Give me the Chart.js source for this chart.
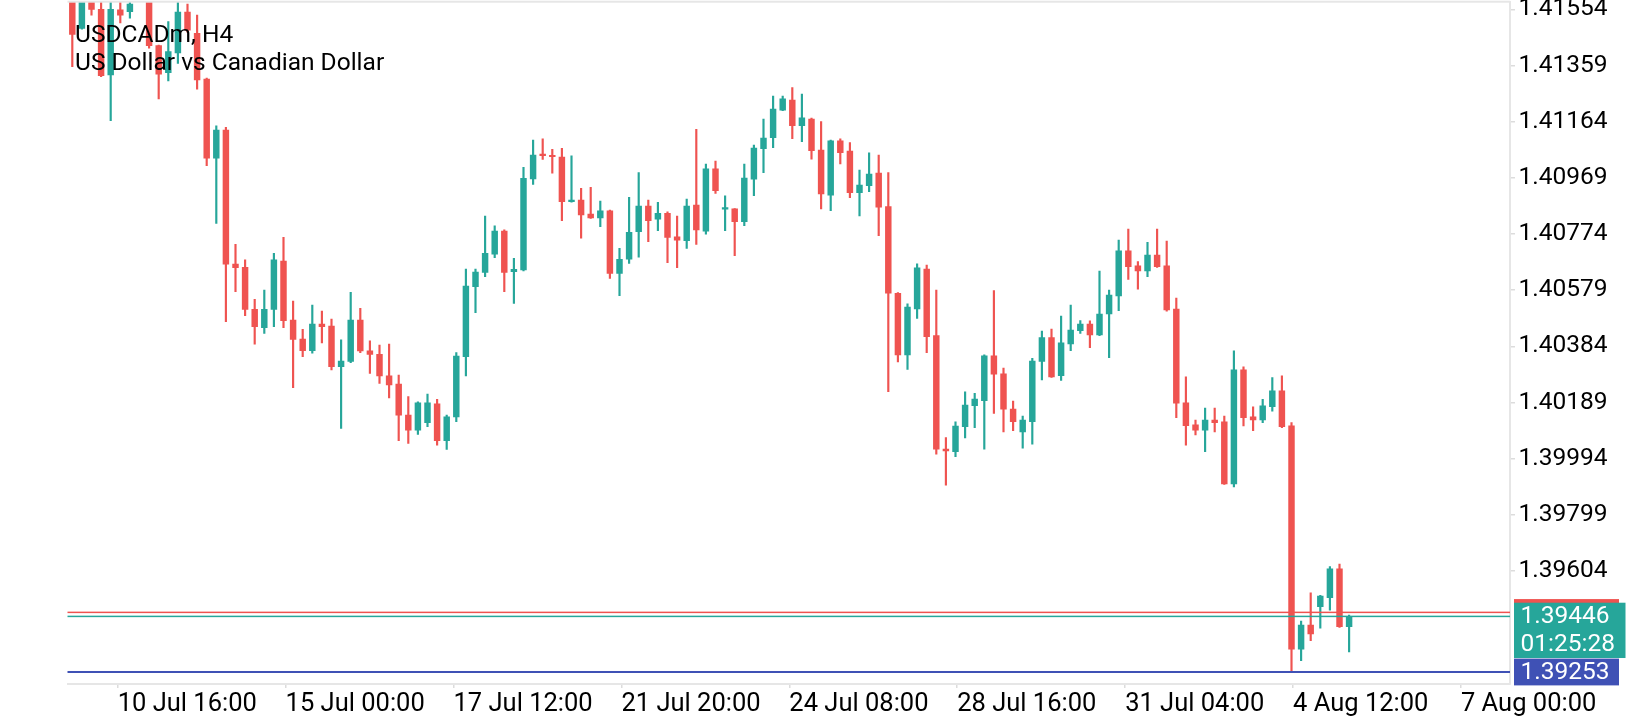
<!DOCTYPE html>
<html>
<head>
<meta charset="utf-8">
<script src="https://cdn.jsdelivr.net/npm/chart.js@4.4.1/dist/chart.umd.min.js"></script>
<style>
html, body { margin: 0; padding: 0; background: #fff; overflow: hidden; }
</style>
</head>
<body>
<canvas id="chart" width="1640" height="720"></canvas>
<script>
// USDCADm H4 candles, oldest first
var opens = [1.41690,1.41488,1.41605,1.41554,1.41326,1.41552,1.41546,1.41595,1.41600,1.41428,
  1.41334,1.41403,1.41544,1.41471,1.41312,1.41037,1.41135,1.40669,1.40658,1.40512,
  1.40449,1.40512,1.40680,1.40475,1.40409,1.40369,1.40461,1.40454,1.40313,1.40331,
  1.40475,1.40368,1.40356,1.40281,1.40253,1.40145,1.40093,1.40119,1.40184,1.40056,
  1.40139,1.40348,1.40591,1.40640,1.40704,1.40784,1.40643,1.40649,1.40965,1.41049,
  1.41047,1.41041,1.40886,1.40892,1.40843,1.40830,1.40854,1.40637,1.40686,1.40782,
  1.40871,1.40825,1.40846,1.40764,1.40751,1.40874,1.40784,1.41000,1.40860,1.40861,
  1.40817,1.40964,1.41070,1.41108,1.41204,1.41239,1.41150,1.41173,1.41065,1.40909,
  1.41097,1.41062,1.40917,1.40942,1.40985,1.40869,1.40568,1.40354,1.40514,1.40652,
  1.40421,1.40027,1.40018,1.40105,1.40178,1.40195,1.40351,1.40288,1.40166,1.40087,
  1.40122,1.40331,1.40414,1.40282,1.40392,1.40438,1.40461,1.40423,1.40496,1.40559,
  1.40715,1.40663,1.40646,1.40701,1.40663,1.40513,1.40188,1.40111,1.40093,1.40128,
  1.40122,1.39906,1.40302,1.40139,1.40128,1.40174,1.40229,1.40108,1.39332,1.39416,
  1.39480,1.39511,1.39611,1.39410];
var highs = [1.41720,1.41650,1.41620,1.41600,1.41600,1.41590,1.41600,1.41640,1.41620,1.41430,
  1.41511,1.41585,1.41572,1.41534,1.41315,1.41149,1.41144,1.40738,1.40684,1.40547,
  1.40579,1.40707,1.40762,1.40541,1.40443,1.40527,1.40506,1.40478,1.40406,1.40571,
  1.40516,1.40403,1.40388,1.40392,1.40284,1.40209,1.40191,1.40218,1.40200,1.40145,
  1.40362,1.40652,1.40652,1.40836,1.40802,1.40788,1.40689,1.41005,1.41100,1.41104,
  1.41068,1.41071,1.41045,1.40932,1.40936,1.40888,1.40857,1.40724,1.40901,1.40987,
  1.40892,1.40884,1.40851,1.40836,1.40895,1.41137,1.41017,1.41027,1.40906,1.40862,
  1.41017,1.41083,1.41173,1.41253,1.41253,1.41282,1.41260,1.41176,1.41164,1.41100,
  1.41104,1.41091,1.40996,1.41056,1.41048,1.40987,1.40570,1.40531,1.40670,1.40666,
  1.40579,1.40067,1.40122,1.40226,1.40221,1.40354,1.40577,1.40308,1.40194,1.40142,
  1.40342,1.40437,1.40444,1.40489,1.40527,1.40473,1.40472,1.40645,1.40579,1.40753,
  1.40791,1.40678,1.40745,1.40791,1.40749,1.40551,1.40278,1.40128,1.40169,1.40169,
  1.40142,1.40368,1.40313,1.40174,1.40200,1.40275,1.40281,1.40119,1.39430,1.39528,
  1.39519,1.39619,1.39628,1.39451];
var lows = [1.41355,1.41485,1.41534,1.41320,1.41167,1.41507,1.41523,1.41585,1.41419,1.41243,
  1.41305,1.41366,1.41475,1.41277,1.41011,1.40811,1.40469,1.40574,1.40490,1.40391,
  1.40429,1.40452,1.40449,1.40240,1.40348,1.40360,1.40396,1.40302,1.40099,1.40327,
  1.40362,1.40290,1.40255,1.40205,1.40056,1.40047,1.40078,1.40105,1.40041,1.40026,
  1.40122,1.40281,1.40501,1.40626,1.40692,1.40574,1.40533,1.40646,1.40946,1.41033,
  1.40985,1.40820,1.40884,1.40759,1.40828,1.40799,1.40620,1.40560,1.40672,1.40693,
  1.40747,1.40785,1.40674,1.40657,1.40724,1.40738,1.40773,1.40915,1.40785,1.40699,
  1.40803,1.40907,1.40987,1.41074,1.41202,1.41105,1.41094,1.41034,1.40861,1.40855,
  1.41017,1.40900,1.40837,1.40921,1.40768,1.40226,1.40330,1.40304,1.40481,1.40362,
  1.40009,1.39902,1.40001,1.40066,1.40101,1.40027,1.40151,1.40087,1.40091,1.40030,
  1.40044,1.40267,1.40276,1.40265,1.40369,1.40429,1.40379,1.40421,1.40344,1.40508,
  1.40616,1.40582,1.40626,1.40658,1.40506,1.40136,1.40041,1.40076,1.40018,1.40087,
  1.39904,1.39896,1.40107,1.40091,1.40119,1.40159,1.40101,1.39253,1.39292,1.39362,
  1.39405,1.39468,1.39408,1.39323];
var closes = [1.41467,1.41610,1.41554,1.41324,1.41554,1.41534,1.41572,1.41620,1.41428,1.41329,
  1.41407,1.41544,1.41482,1.41309,1.41037,1.41135,1.40669,1.40657,1.40512,1.40452,
  1.40512,1.40684,1.40473,1.40408,1.40369,1.40461,1.40452,1.40313,1.40333,1.40475,
  1.40368,1.40356,1.40281,1.40250,1.40145,1.40093,1.40188,1.40188,1.40056,1.40139,
  1.40350,1.40593,1.40642,1.40707,1.40784,1.40640,1.40651,1.40967,1.41048,1.41046,
  1.41042,1.40886,1.40892,1.40840,1.40830,1.40854,1.40637,1.40686,1.40780,1.40871,
  1.40820,1.40846,1.40762,1.40752,1.40871,1.40788,1.41000,1.40924,1.40865,1.40817,
  1.40968,1.41072,1.41107,1.41208,1.41243,1.41150,1.41177,1.41063,1.40913,1.41097,
  1.41056,1.40917,1.40944,1.40982,1.40867,1.40568,1.40354,1.40520,1.40656,1.40417,
  1.40027,1.40021,1.40107,1.40180,1.40201,1.40351,1.40287,1.40166,1.40122,1.40128,
  1.40333,1.40414,1.40278,1.40396,1.40440,1.40461,1.40423,1.40496,1.40562,1.40715,
  1.40660,1.40646,1.40701,1.40660,1.40510,1.40186,1.40108,1.40093,1.40128,1.40119,
  1.39906,1.40302,1.40136,1.40128,1.40177,1.40229,1.40105,1.39332,1.39416,1.39385,
  1.39517,1.39611,1.39410,1.39446];

var priceTicks = [1.41554,1.41359,1.41164,1.40969,1.40774,1.40579,1.40384,1.40189,1.39994,1.39799,1.39604];
var timeTickLabels = ['10 Jul 16:00','15 Jul 00:00','17 Jul 12:00','21 Jul 20:00','24 Jul 08:00',
  '28 Jul 16:00','31 Jul 04:00','4 Aug 12:00','7 Aug 00:00'];
var timeTickPos = [4.73,22.22,39.71,57.20,74.69,92.18,109.67,127.16,144.65]; // in bar units

var symbolTitle = 'USDCADm, H4';
var symbolName = 'US Dollar vs Canadian Dollar';
var bidPrice = 1.39446;
var askPrice = 1.39460;
var levelPrice = 1.39253;
var barTimer = '01:25:28';

var bull = '#26a69a', bear = '#ef5350', levelBlue = '#3f51b5';

var wicks = [], bodies = [], colors = [];
for (var i = 0; i < opens.length; i++) {
  wicks.push({x: i, y: [lows[i], highs[i]]});
  bodies.push({x: i, y: [Math.min(opens[i], closes[i]), Math.max(opens[i], closes[i])]});
  colors.push(closes[i] >= opens[i] ? bull : bear);
}

var overlay = {
  id: 'overlay',
  afterDatasetsDraw: function(chart) {
    var c = chart.ctx, a = chart.chartArea, ys = chart.scales.y;
    c.save();
    // top frame line
    c.fillStyle = '#e6e6e6';
    c.fillRect(a.left, a.top - 1.3, a.right - a.left, 2);
    // price lines
    c.fillStyle = bear;
    c.fillRect(a.left, ys.getPixelForValue(askPrice) - 0.75, a.right - a.left, 1.5);
    c.fillStyle = bull;
    c.fillRect(a.left, ys.getPixelForValue(bidPrice) - 0.75, a.right - a.left, 1.5);
    c.fillStyle = levelBlue;
    c.fillRect(a.left, ys.getPixelForValue(levelPrice) - 1, a.right - a.left, 2);
    // symbol caption
    c.fillStyle = '#000';
    c.font = '24.5px Roboto';
    c.textBaseline = 'alphabetic';
    c.textAlign = 'left';
    c.fillText(symbolTitle, 75, 41.7);
    c.fillText(symbolName, 75, 70);
    c.restore();
  },
  afterDraw: function(chart) {
    var c = chart.ctx, a = chart.chartArea, ys = chart.scales.y;
    var x0 = a.right + 4;
    var yAsk = ys.getPixelForValue(askPrice);
    var yBid = ys.getPixelForValue(bidPrice);
    var yLvl = ys.getPixelForValue(levelPrice);
    c.save();
    c.fillStyle = bear;
    c.fillRect(x0, yAsk - 13.3, 105, 26.6);
    c.fillStyle = bull;
    c.fillRect(x0, yBid - 13.7, 111.5, 55.3);
    c.fillStyle = levelBlue;
    c.fillRect(x0, yLvl - 13.4, 105, 26.8);
    c.fillStyle = '#fff';
    c.font = '24.5px Roboto';
    c.textBaseline = 'middle';
    c.textAlign = 'left';
    c.fillText(bidPrice.toFixed(5), x0 + 6.5, yBid + 0.5);
    c.fillText(barTimer, x0 + 6.5, yBid + 28);
    c.fillText(levelPrice.toFixed(5), x0 + 6.5, yLvl + 0.5);
    c.restore();
  }
};

var ctx = document.getElementById('chart');
var chart = new Chart(ctx, {
  type: 'bar',
  data: {
    datasets: [
      {data: wicks, backgroundColor: colors, barThickness: 1.5, grouped: false, order: 2},
      {data: bodies, backgroundColor: colors, barThickness: 5.8, grouped: false, minBarLength: 1.5, order: 1}
    ]
  },
  options: {
    responsive: false,
    devicePixelRatio: 1,
    animation: false,
    events: [],
    layout: {padding: {left: 67.5, top: 2, right: 0, bottom: 0}},
    plugins: {legend: {display: false}, tooltip: {enabled: false}, title: {display: false}},
    scales: {
      x: {
        type: 'linear',
        min: -0.5,
        max: 149.76,
        offset: false,
        grid: {offset: false, drawOnChartArea: false, drawTicks: true, tickLength: 4, color: '#dcdcdc', lineWidth: 1.5},
        border: {display: true, color: '#e6e6e6', width: 2},
        afterBuildTicks: function(s) {
          s.ticks = timeTickPos.map(function(v) { return {value: v}; });
        },
        afterFit: function(s) {
          s.height = 36;
          s.paddingLeft = 0; s.paddingRight = 0;
        },
        ticks: {
          align: 'start',
          autoSkip: false,
          maxRotation: 0,
          padding: 1.5,
          color: '#000',
          font: {family: 'Roboto', size: 25.5},
          callback: function(v, idx) { return timeTickLabels[idx]; }
        }
      },
      y: {
        position: 'right',
        min: 1.392113,
        max: 1.415794,
        grid: {drawOnChartArea: false, drawTicks: true, tickLength: 5, color: '#dcdcdc', lineWidth: 1.5},
        border: {display: true, color: '#e6e6e6', width: 2},
        afterBuildTicks: function(s) {
          s.ticks = priceTicks.map(function(v) { return {value: v}; });
        },
        afterFit: function(s) {
          s.width = 130;
          s.paddingTop = 0; s.paddingBottom = 0;
        },
        ticks: {
          padding: 3.5,
          color: '#000',
          font: {family: 'Roboto', size: 24.5},
          callback: function(v) { return v.toFixed(5); }
        }
      }
    }
  },
  plugins: [overlay]
});
</script>
</body>
</html>
